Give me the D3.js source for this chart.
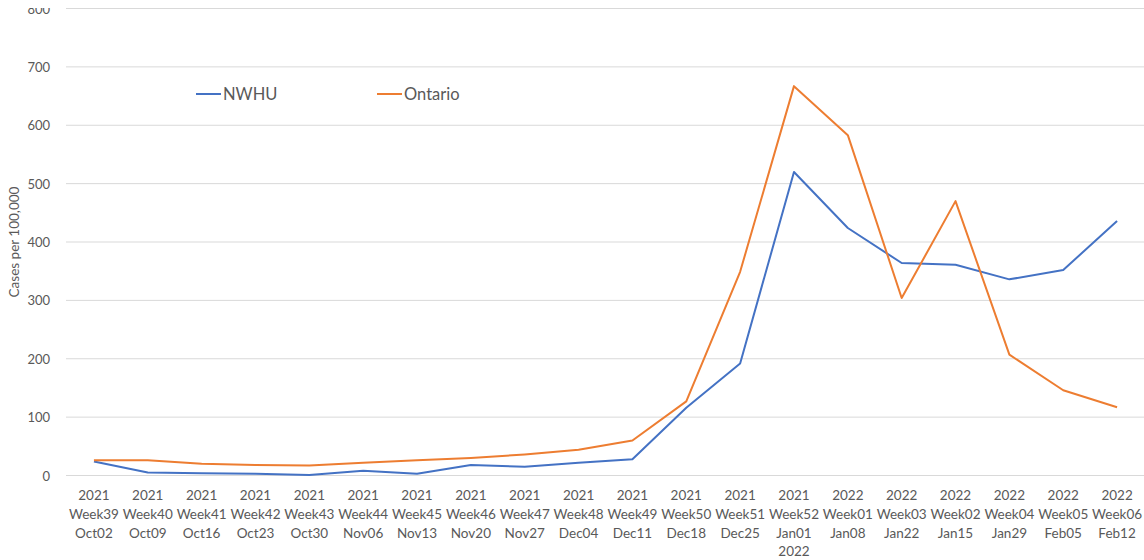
<!DOCTYPE html>
<html>
<head>
<meta charset="utf-8">
<script src="https://cdn.jsdelivr.net/npm/d3@7"></script>
<style>
  body { margin: 0; background: #fff; }
  text { font-family: Lato, "Open Sans", sans-serif; fill: #595959; }
</style>
</head>
<body>
<div id="chart"></div>
<script>
// weekly labels, as in the source (note Week03 before Week02)
const years = ["2021","2021","2021","2021","2021","2021","2021","2021","2021","2021","2021","2021","2021","2021","2022","2022","2022","2022","2022","2022"];
const weeks = ["Week39","Week40","Week41","Week42","Week43","Week44","Week45","Week46","Week47","Week48","Week49","Week50","Week51","Week52","Week01","Week03","Week02","Week04","Week05","Week06"];
const dates = ["Oct02","Oct09","Oct16","Oct23","Oct30","Nov06","Nov13","Nov20","Nov27","Dec04","Dec11","Dec18","Dec25","Jan01","Jan08","Jan22","Jan15","Jan29","Feb05","Feb12"];
const extraLine = {13: "2022"};

const nwhu = [24, 5, 4, 3, 1, 8, 3, 18, 15, 22, 28, 116, 192, 520, 424, 364, 361, 336, 352, 436];
const ontario = [26, 26, 20, 18, 17, 22, 26, 30, 36, 44, 60, 127, 349, 667, 583, 304, 470, 207, 146, 117];

const yTicks = [0, 100, 200, 300, 400, 500, 600, 700, 800];

const width = 1144, height = 560;
const margin = {top: 8.5, right: 0, bottom: 84.5, left: 67};

const svg = d3.select("#chart")
    .append("svg")
    .attr("width", width)
    .attr("height", height);

// the top tick label is cut off in the original
svg.append("clipPath")
    .attr("id", "ylab-clip")
    .append("rect")
    .attr("x", 0)
    .attr("y", 8)
    .attr("width", 70)
    .attr("height", height);

const x = d3.scaleBand()
    .domain(d3.range(weeks.length))
    .range([margin.left, width - margin.right]);

const y = d3.scaleLinear()
    .domain([0, 800])
    .range([height - margin.bottom, margin.top]);

// gridlines
svg.append("g")
    .selectAll("line")
    .data(yTicks)
    .join("line")
    .attr("x1", margin.left - 1)
    .attr("x2", width)
    .attr("y1", d => y(d))
    .attr("y2", d => y(d))
    .attr("stroke", "#d9d9d9")
    .attr("stroke-width", 1);

// y tick labels
svg.append("g")
    .attr("clip-path", "url(#ylab-clip)")
    .selectAll("text")
    .data(yTicks)
    .join("text")
    .attr("x", 50)
    .attr("y", d => y(d) + 5)
    .attr("text-anchor", "end")
    .style("font-size", "13px")
    .text(d => d);

// y title
svg.append("text")
    .attr("transform", "translate(19," + y(400) + ") rotate(-90)")
    .attr("text-anchor", "middle")
    .style("font-size", "13.5px")
    .text("Cases per 100,000");

// x labels
const xl = svg.append("g")
    .selectAll("text")
    .data(weeks)
    .join("text")
    .attr("text-anchor", "middle")
    .style("font-size", "13.5px");

xl.each(function (d, i) {
    const cx = x(i) + x.bandwidth() / 2;
    const t = d3.select(this);
    const lines = [years[i], weeks[i], dates[i]];
    if (extraLine[i]) lines.push(extraLine[i]);
    lines.forEach((s, k) => {
        t.append("tspan")
            .attr("x", cx)
            .attr("y", 500 + k * 18.8)
            .text(s);
    });
});

// lines
const line = d3.line()
    .x((d, i) => x(i) + x.bandwidth() / 2)
    .y(d => y(d));

const series = [
    {name: "NWHU", values: nwhu, color: "#4472C4", lx: 196},
    {name: "Ontario", values: ontario, color: "#ED7D31", lx: 377}
];

svg.append("g")
    .selectAll("path")
    .data(series)
    .join("path")
    .attr("d", d => line(d.values))
    .attr("fill", "none")
    .attr("stroke", d => d.color)
    .attr("stroke-width", 2)
    .attr("stroke-linejoin", "round");

// legend
const lg = svg.append("g")
    .selectAll("g")
    .data(series)
    .join("g")
    .attr("transform", d => "translate(" + d.lx + ",94)");

lg.append("line")
    .attr("x1", 0)
    .attr("x2", 25)
    .attr("stroke", d => d.color)
    .attr("stroke-width", 2);

lg.append("text")
    .attr("x", 27)
    .attr("y", 6)
    .style("font-size", "16.5px")
    .text(d => d.name);
</script>
</body>
</html>
